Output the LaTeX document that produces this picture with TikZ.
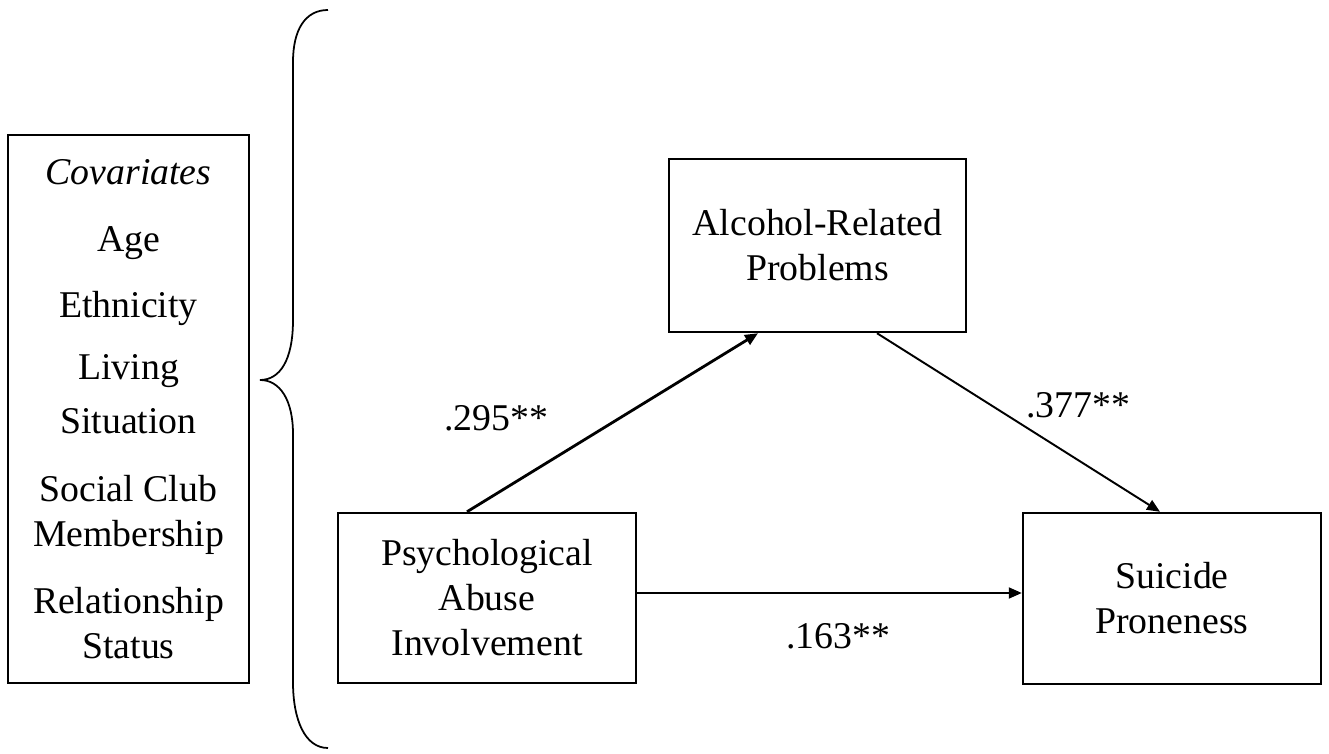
\documentclass[tikz,border=0pt]{standalone}
\usepackage{fontspec}
\setmainfont{Liberation Serif}
\usepackage{tikz}
\usetikzlibrary{positioning,arrows.meta}

\begin{document}
\begin{tikzpicture}[
    var/.style={draw, inner sep=0pt, align=center, line width=1.4pt, font=\fontsize{21.5}{25.6}\selectfont},
    path/.style={-{Triangle[length=0.26cm,width=0.22cm]}, line width=1.1pt},
    coef/.style={font=\fontsize{21.5}{25.6}\selectfont},
]
  \useasboundingbox (0,0) rectangle (26.58,-15.08);

  \node[var, minimum width=4.82cm, minimum height=10.96cm] (cov) at (2.57, -8.18)
    {\textit{Covariates} \\[12.5pt] Age \\[12pt] Ethnicity \\[10pt] Living \\[5pt] Situation \\[13pt]
     Social Club \\ Membership \\[12.5pt] Relationship \\ Status};

  \node[var, minimum width=5.94cm, minimum height=3.46cm] (alc) at (16.35, -4.91) {Alcohol-Related \\ Problems};
  \node[var, minimum width=5.96cm, minimum height=3.40cm] (pai) at (9.74, -11.96) {Psychological \\ Abuse \\ Involvement};
  \node[var, minimum width=5.96cm, minimum height=3.42cm] (sp) at (23.44, -11.97) {Suicide \\ Proneness};

  % brace round the covariates
  \draw[line width=1pt] (6.56,-0.2) .. controls (6.1,-0.2) and (5.86,-0.6) .. (5.86,-1.24)
    -- (5.86,-6.4) .. controls (5.86,-7.2) and (5.6,-7.6) .. (5.2,-7.6)
    .. controls (5.6,-7.6) and (5.86,-8.0) .. (5.86,-8.68)
    -- (5.86,-13.64) .. controls (5.86,-14.4) and (6.1,-14.96) .. (6.56,-14.96);

  \draw[path, line width=1.6pt] ([xshift=-0.4cm]pai.north) -- ([xshift=-1.19cm]alc.south);
  \draw[path] ([xshift=1.19cm]alc.south) -- ([xshift=-0.24cm]sp.north);
  \draw[path] ([yshift=0.1cm]pai.east) -- ([yshift=0.1cm]pai.east -| sp.west);

  \node[coef] (a) at (9.92, -8.36) {.295**};
  \node[coef] (b) at (21.56, -8.10) {.377**};
  \node[coef] (c) at (16.76, -12.72) {.163**};
\end{tikzpicture}
\end{document}
